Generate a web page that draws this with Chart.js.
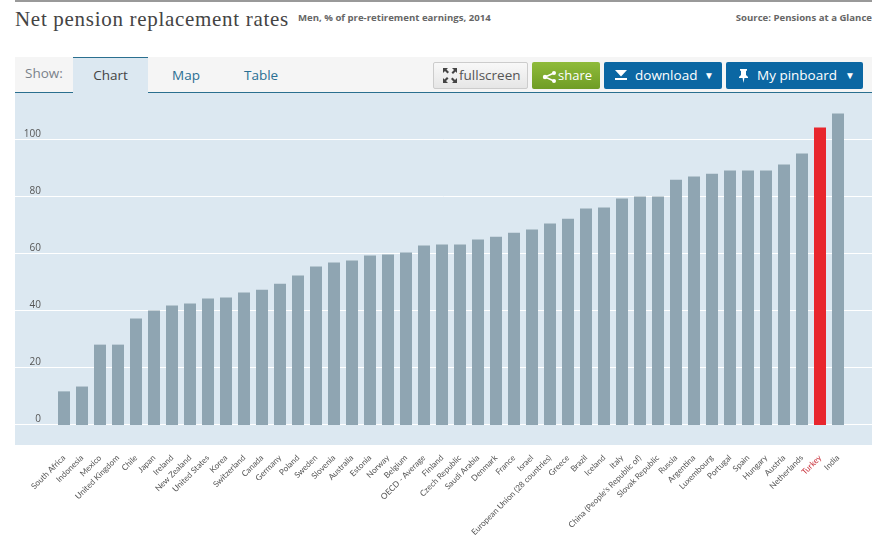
<!DOCTYPE html>
<html><head><meta charset="utf-8">
<script src="https://cdn.jsdelivr.net/npm/chart.js@4"></script>
<style>
html,body{margin:0;padding:0;background:#fff;width:876px;height:541px;overflow:hidden}
.a{position:absolute;white-space:nowrap}
#topbar{left:15px;top:0;width:857px;height:2px;background:#999}
#title{left:15px;top:6px;font:21px/26px "Liberation Serif",serif;letter-spacing:.7px;color:#444}
#sub{left:298px;top:10px;font:bold 9.6px/16px "Open Sans",sans-serif;color:#666}
#src{right:4px;top:10px;font:bold 9.6px/16px "Open Sans",sans-serif;color:#666}
#bar{left:15px;top:57px;width:857px;height:35px;background:#f5f5f5}
#rule{left:15px;top:92px;width:857px;height:1px;background:#2a6f8f}
#panel{left:15px;top:93px;width:857px;height:352px;background:#dce8f1}
#show{left:25px;top:64px;font:13.5px/18px "Open Sans",sans-serif;color:#7a828a}
#tab{left:73px;top:57px;width:75px;height:36px;box-sizing:border-box;background:#dce8f1;border-top:1px solid #2a6f8f;text-align:center;font:13.5px/35px "Open Sans",sans-serif;color:#444}
.tl{top:66px;font:13.5px/18px "Open Sans",sans-serif;color:#2a6f93}
.btn{top:62px;height:27px;box-sizing:border-box;border-radius:2px;font:13.5px/26px "Open Sans",sans-serif;text-align:left}
#fs{left:433px;width:95px;background:linear-gradient(#f8f8f8,#e6e6e6);border:1px solid #ccc;color:#555;padding-left:25px;line-height:25px}
#sh{left:532px;width:68px;background:linear-gradient(#8fbb3a,#6f9d25);color:#fff;padding-left:26px;font-size:13px}
#dl{left:604px;width:118px;background:#0b67a3;color:#fff;padding-left:31px}
#pb{left:726px;width:137px;background:#0b67a3;color:#fff;padding-left:31px}
.btn svg{position:absolute;left:0;top:0}
.arr{position:absolute;top:0;font-size:10px}
#wrap{left:15px;top:93px;width:857px;height:448px}
</style></head><body>
<div class="a" id="topbar"></div>
<div class="a" id="title">Net pension replacement rates</div>
<div class="a" id="sub">Men, % of pre-retirement earnings, 2014</div>
<div class="a" id="src">Source: Pensions at a Glance</div>
<div class="a" id="bar"></div>
<div class="a" id="rule"></div>
<div class="a" id="panel"></div>
<div class="a" id="show">Show:</div>
<div class="a" id="tab">Chart</div>
<div class="a tl" style="left:172px">Map</div>
<div class="a tl" style="left:244px">Table</div>
<div class="a btn" id="fs"><svg width="30" height="25"><path d="M9 5h5l-1.500 1.500 2.500 2.500-1.500 1.500-2.500-2.500L9 10zM23 5v5l-1.500-1.500-2.500 2.500-1.500-1.500 2.500-2.500L18 5zM9 20v-5l1.500 1.500 2.500-2.500 1.500 1.500-2.500 2.500L14 20zM23 20h-5l1.500-1.500-2.500-2.500 1.500-1.500 2.500 2.500L23 15z" fill="#444"/></svg>fullscreen</div>
<div class="a btn" id="sh"><svg width="30" height="27"><path d="M22 11L13 15l9 4" stroke="#fff" stroke-width="1.500" fill="none"/><circle cx="22" cy="11" r="2" fill="#fff"/><circle cx="13" cy="15" r="2.200" fill="#fff"/><circle cx="22" cy="19" r="2" fill="#fff"/></svg>share</div>
<div class="a btn" id="dl"><svg width="30" height="27"><path d="M11 8h12l-6 6.500zM11 16h12v2H11z" fill="#fff"/></svg>download<span class="arr" style="left:100px">▼</span></div>
<div class="a btn" id="pb"><svg width="30" height="27"><path d="M14 7h7v1.500l-1 .5v4l2 2v1h-3.600l-.9 5-.9-5H13v-1l2-2V9l-1-.5z" fill="#fff"/></svg>My pinboard<span class="arr" style="left:119px">▼</span></div>
<div class="a" id="wrap"><canvas id="c"></canvas></div>
<script>
const categories = ["South Africa","Indonesia","Mexico","United Kingdom","Chile","Japan","Ireland","New Zealand","United States","Korea","Switzerland","Canada","Germany","Poland","Sweden","Slovenia","Australia","Estonia","Norway","Belgium","OECD - Average","Finland","Czech Republic","Saudi Arabia","Denmark","France","Israel","European Union (28 countries)","Greece","Brazil","Iceland","Italy","China (People's Republic of)","Slovak Republic","Russia","Argentina","Luxembourg","Portugal","Spain","Hungary","Austria","Netherlands","Turkey","India"];
const values = [11.8,13.5,28.2,28.2,37.4,40.2,41.9,42.6,44.4,44.7,46.5,47.5,49.6,52.5,55.6,57.0,57.7,59.5,59.8,60.5,63.0,63.3,63.3,65.1,66.1,67.5,68.6,70.7,72.4,76.0,76.3,79.5,80.2,80.2,86.1,87.2,88.2,89.3,89.3,89.3,91.4,95.3,104.4,109.3];
const yTicks = [0,20,40,60,80,100];
const highlighted = "Turkey";
const barColor = "#8fa5b2", hiColor = "#e8262d", hiText = "#c8323c", textColor = "#555";

const fullGrid = {
  id:"fullGrid",
  beforeDatasetsDraw(chart){
    const c = chart.ctx, s = chart.scales.y;
    c.save(); c.strokeStyle="#fff"; c.lineWidth=1;
    s.ticks.forEach(t=>{
      const y = Math.round(s.getPixelForValue(t.value))-0.5;
      c.beginPath(); c.moveTo(0,y); c.lineTo(chart.width,y); c.stroke();
    });
    c.restore();
  }
};
const noPad = s=>{s.paddingTop=0;s.paddingBottom=0;s.paddingLeft=0;s.paddingRight=0;};
new Chart(document.getElementById("c"),{
  type:"bar",
  data:{labels:categories,datasets:[{data:values,
    backgroundColor:categories.map(n=>n===highlighted?hiColor:barColor),
    categoryPercentage:1,barPercentage:12/18}]},
  plugins:[fullGrid],
  options:{
    responsive:true,maintainAspectRatio:false,animation:false,
    layout:{autoPadding:false,padding:{right:25,left:0,top:0,bottom:0}},
    plugins:{legend:{display:false},tooltip:{enabled:false}},
    scales:{
      x:{grid:{display:false,drawTicks:false},border:{display:false},
        afterFit(s){s.height=96;noPad(s);},
        ticks:{autoSkip:false,minRotation:45,maxRotation:45,padding:8,
          font:{family:"Lato",size:8.2},
          color:ctx=>categories[ctx.index]===highlighted?hiText:textColor}},
      y:{min:-7.02,max:116.5,grid:{display:false,drawTicks:false},border:{display:false},
        afterBuildTicks(s){s.ticks=yTicks.map(v=>({value:v}));},
        afterFit(s){s.width=40;noPad(s);},
        ticks:{padding:14,labelOffset:-6,font:{family:"Open Sans",size:10},color:textColor}}
    }
  }
});
</script>
</body></html>
